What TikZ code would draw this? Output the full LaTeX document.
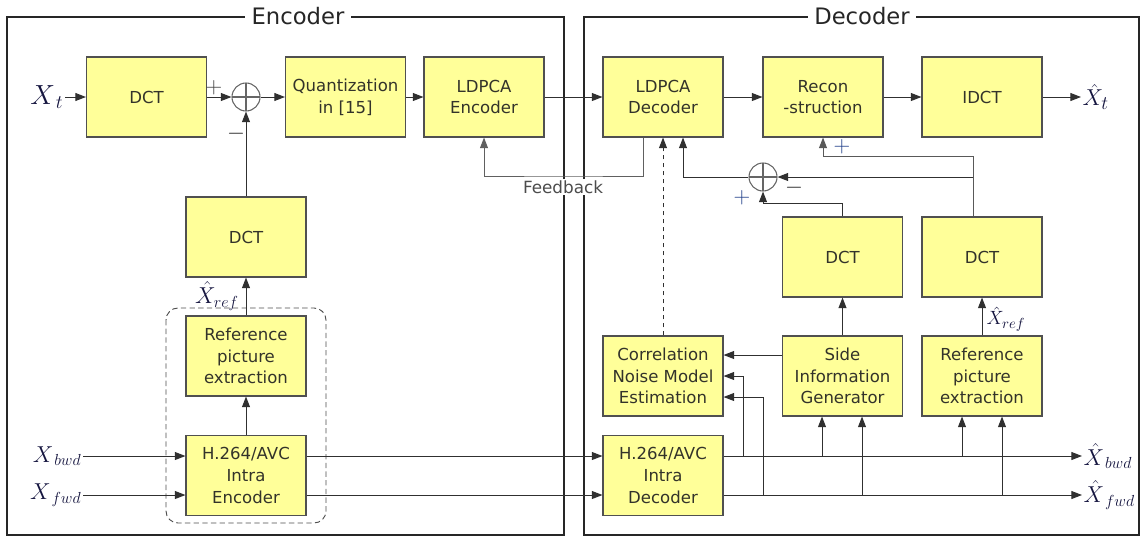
\documentclass[tikz,border=0pt]{standalone}
\usepackage{fontspec}
\setmainfont{DejaVu Sans}
\usetikzlibrary{arrows.meta,calc}
\definecolor{boxfill}{HTML}{FFFF99}
\definecolor{boxline}{HTML}{505050}
\definecolor{txt}{HTML}{33332A}
\definecolor{ln}{HTML}{303030}
\definecolor{mathc}{HTML}{15153F}
\definecolor{plusc}{HTML}{22408A}
\begin{document}
\begin{tikzpicture}[x=0.75pt,y=-0.75pt,
 blk/.style={draw=boxline,fill=boxfill,line width=0.8pt,minimum width=90pt,minimum height=60pt,align=center,text=txt,font=\fontsize{12.4}{16.3}\selectfont,inner sep=0pt},
 arr/.style={draw=ln,line width=0.75pt,-{Triangle[length=8pt,width=6pt]}},
 con/.style={draw=ln,line width=0.75pt},
 frame/.style={draw=black!85,line width=1.1pt},
 ttl/.style={fill=white,font=\fontsize{17}{20}\selectfont,text=black!85,inner xsep=5pt},
 sum/.style={circle,draw=gray!80!black,line width=0.8pt,minimum size=21pt,inner sep=0pt,
   path picture={\draw[gray!80!black,line width=0.8pt] (path picture bounding box.north) -- (path picture bounding box.south) (path picture bounding box.west) -- (path picture bounding box.east);}},
 ml/.style={text=mathc,inner sep=1pt},
 sg/.style={font=\fontsize{16}{16}\selectfont,inner sep=0pt}
]
\useasboundingbox (0,0) rectangle (1141,537);
% frames
\draw[frame] (7,17) rectangle (564,535);
\draw[frame] (584,17) rectangle (1139,535);
\node[ttl] (enct) at (298,16) {Encoder};
\node[ttl] (dect) at (862,16) {Decoder};
\draw[dashed,gray!60!black,line width=0.7pt,rounded corners=9pt,dash pattern=on 4pt off 2.5pt] (166,308) rectangle (326,523);
\node[fill=white,text=black!70,font=\fontsize{12.6}{13}\selectfont,inner xsep=2pt,inner ysep=1pt] (fb) at (563,187) {Feedback};

% encoder boxes
\node[blk] (eDCT) at (146.5,97) {DCT};
\node[blk] (quant) at (345.5,97) {Quantization\\in [15]};
\node[blk] (ldpcE) at (484,97) {LDPCA\\Encoder};
\node[blk] (eDCT2) at (246,237) {DCT};
\node[blk] (eRef) at (246,356) {Reference\\picture\\extraction};
\node[blk] (eH) at (246,475.5) {H.264/AVC\\Intra\\Encoder};
\node[sum] (es) at (246,97) {};

% decoder boxes
\node[blk] (ldpcD) at (663,97) {LDPCA\\Decoder};
\node[blk] (recon) at (823,97) {Recon\\-struction};
\node[blk] (idct) at (982,97) {IDCT};
\node[blk] (sDCT) at (842.5,257) {DCT};
\node[blk] (rDCT) at (982,257) {DCT};
\node[blk] (corr) at (663,376) {Correlation\\Noise Model\\Estimation};
\node[blk] (si) at (842.5,376) {Side\\Information\\Generator};
\node[blk] (dRef) at (982,376) {Reference\\picture\\extraction};
\node[blk] (dH) at (663,475.5) {H.264/AVC\\Intra\\Decoder};
\node[sum] (ds) at (763,177) {};

% labels
\node[ml,anchor=east,font=\fontsize{21}{21}\selectfont] (xt) at (65,97) {$X_{\,t}$};
\node[ml,anchor=east,font=\fontsize{18.5}{19}\selectfont] (xbwd) at (83,456) {$X_{\,bwd}$};
\node[ml,anchor=east,font=\fontsize{18.5}{19}\selectfont] (xfwd) at (83,495) {$X_{\,fwd}$};
\node[ml,anchor=west,font=\fontsize{19}{19}\selectfont] (xht) at (1081,97) {$\hat{X}_{t}$};
\node[ml,anchor=west,font=\fontsize{18.5}{19}\selectfont] (xhb) at (1082,456) {$\hat{X}_{\,bwd}$};
\node[ml,anchor=west,font=\fontsize{18.5}{19}\selectfont] (xhf) at (1082,495) {$\hat{X}_{\,fwd}$};
\node[ml,font=\fontsize{17}{17}\selectfont] (xre) at (217,296) {$\hat{X}_{ref}$};
\node[ml,font=\fontsize{15}{15}\selectfont] (xrd) at (1006,319) {$\hat{X}_{ref}$};

% signs
\node[sg,text=black!75] (p1) at (214,88) {$+$};
\node[sg,text=black!85] (m1) at (236,134) {$-$};
\node[sg,text=plusc] (p2) at (842,147) {$+$};
\node[sg,text=black!85] (m2) at (794,188) {$-$};
\node[sg,text=plusc] (p3) at (742,198) {$+$};

% encoder connections
\draw[arr] (xt.east) -- (eDCT.west);
\draw[arr] (eDCT.east) -- (es.west);
\draw[arr] (es.east) -- (quant.west);
\draw[arr] (quant.east) -- (ldpcE.west);
\draw[arr] (ldpcE.east) -- (ldpcD.west);
\draw[arr] (eDCT2.north) -- (es.south);
\draw[arr] (eRef.north) -- (eDCT2.south);
\draw[arr] (eH.north) -- (eRef.south);
\draw[arr] (xbwd.east) -- (xbwd.east -| eH.west);
\draw[arr] (xfwd.east) -- (xfwd.east -| eH.west);
\draw[arr] (eH.east |- xbwd) -- (dH.west |- xbwd);
\draw[arr] (eH.east |- xfwd) -- (dH.west |- xfwd);

% feedback
\coordinate (fbc) at (563,176);
\draw[arr,draw=gray!75!black] ($(ldpcD.south)+(-20,0)$) |- (fbc) -| (ldpcE.south);
\draw[arr,dashed] (corr.north) -- (ldpcD.south);

% decoder main chain
\draw[arr] (ldpcD.east) -- (recon.west);
\draw[arr] (recon.east) -- (idct.west);
\draw[arr] (idct.east) -- (xht.west);
\draw[arr] (dH.east |- xhb) -- (xhb.west);
\draw[arr] (dH.east |- xhf) -- (xhf.west);

% branches
\coordinate (jb1) at (743,456); \coordinate (jf1) at (763,495);
\coordinate (jb2) at (822,456); \coordinate (jf2) at (862,495);
\coordinate (jb3) at (962,456); \coordinate (jf3) at (1002,495);
\draw[arr] (jb1) |- (corr.east);
\draw[arr] (jf1) |- ($(corr.east)+(0,21)$);
\draw[arr] ($(si.west)+(0,-21)$) -- ($(corr.east)+(0,-21)$);
\draw[arr] (jb2) -- (jb2 |- si.south);
\draw[arr] (jf2) -- (jf2 |- si.south);
\draw[arr] (jb3) -- (jb3 |- dRef.south);
\draw[arr] (jf3) -- (jf3 |- dRef.south);
\draw[arr] (si.north) -- (sDCT.south);
\draw[arr] (dRef.north) -- (rDCT.south);

% side information paths to the decoder
\draw[arr] (sDCT.north) -- ++(0,-13) -| (ds.south);
\coordinate (rt) at ($(rDCT.north)+(-9,0)$);
\draw[arr,draw=gray!70!black] (rt) -- ($(rt)+(0,-60)$) -| (recon.south);
\draw[arr] (rt |- ds) -- (ds.east);
\draw[arr] (ds.west) -| ($(ldpcD.south)+(20,0)$);
\end{tikzpicture}
\end{document}
